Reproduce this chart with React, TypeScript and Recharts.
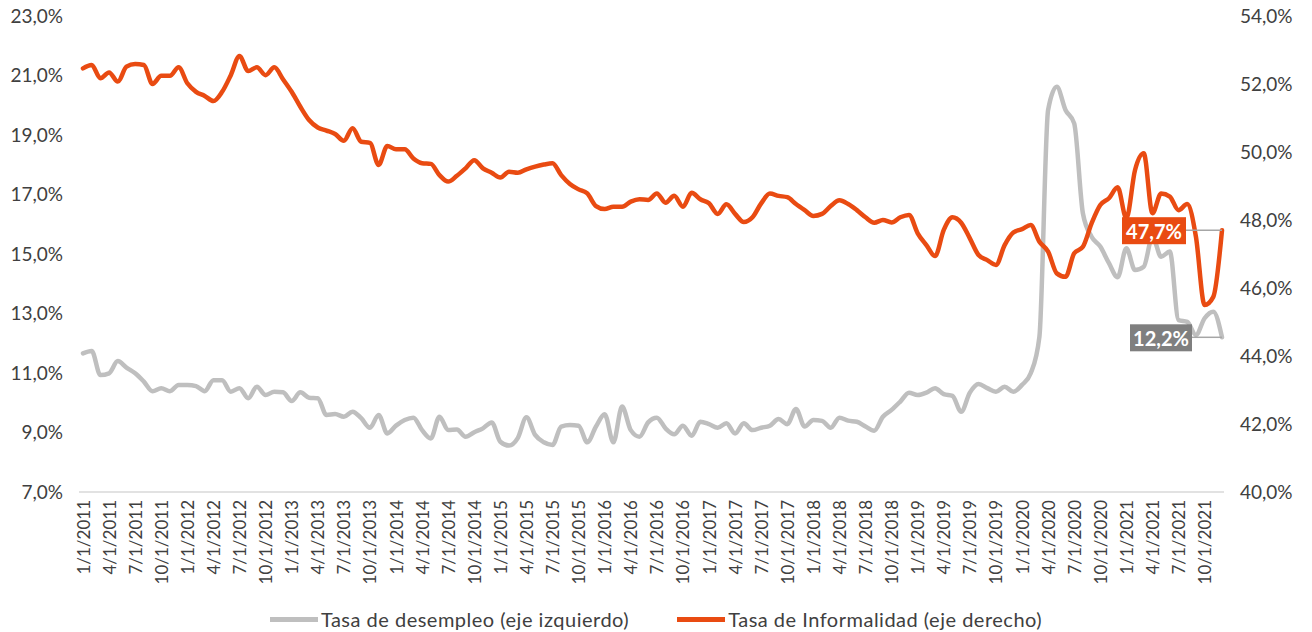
import React from 'react';
import { LineChart, Line, XAxis, YAxis, Legend, LabelList } from 'recharts';

// Monthly dates, Jan 2011 – Dec 2021
const fechas = [
  '1/1/2011', '2/1/2011', '3/1/2011', '4/1/2011', '5/1/2011', '6/1/2011', '7/1/2011', '8/1/2011', '9/1/2011', '10/1/2011', '11/1/2011', '12/1/2011',
  '1/1/2012', '2/1/2012', '3/1/2012', '4/1/2012', '5/1/2012', '6/1/2012', '7/1/2012', '8/1/2012', '9/1/2012', '10/1/2012', '11/1/2012', '12/1/2012',
  '1/1/2013', '2/1/2013', '3/1/2013', '4/1/2013', '5/1/2013', '6/1/2013', '7/1/2013', '8/1/2013', '9/1/2013', '10/1/2013', '11/1/2013', '12/1/2013',
  '1/1/2014', '2/1/2014', '3/1/2014', '4/1/2014', '5/1/2014', '6/1/2014', '7/1/2014', '8/1/2014', '9/1/2014', '10/1/2014', '11/1/2014', '12/1/2014',
  '1/1/2015', '2/1/2015', '3/1/2015', '4/1/2015', '5/1/2015', '6/1/2015', '7/1/2015', '8/1/2015', '9/1/2015', '10/1/2015', '11/1/2015', '12/1/2015',
  '1/1/2016', '2/1/2016', '3/1/2016', '4/1/2016', '5/1/2016', '6/1/2016', '7/1/2016', '8/1/2016', '9/1/2016', '10/1/2016', '11/1/2016', '12/1/2016',
  '1/1/2017', '2/1/2017', '3/1/2017', '4/1/2017', '5/1/2017', '6/1/2017', '7/1/2017', '8/1/2017', '9/1/2017', '10/1/2017', '11/1/2017', '12/1/2017',
  '1/1/2018', '2/1/2018', '3/1/2018', '4/1/2018', '5/1/2018', '6/1/2018', '7/1/2018', '8/1/2018', '9/1/2018', '10/1/2018', '11/1/2018', '12/1/2018',
  '1/1/2019', '2/1/2019', '3/1/2019', '4/1/2019', '5/1/2019', '6/1/2019', '7/1/2019', '8/1/2019', '9/1/2019', '10/1/2019', '11/1/2019', '12/1/2019',
  '1/1/2020', '2/1/2020', '3/1/2020', '4/1/2020', '5/1/2020', '6/1/2020', '7/1/2020', '8/1/2020', '9/1/2020', '10/1/2020', '11/1/2020', '12/1/2020',
  '1/1/2021', '2/1/2021', '3/1/2021', '4/1/2021', '5/1/2021', '6/1/2021', '7/1/2021', '8/1/2021', '9/1/2021', '10/1/2021', '11/1/2021', '12/1/2021',
];

// Tasa de desempleo (%), left axis
const desempleo = [
  11.66, 11.74, 10.93, 10.99, 11.40, 11.18, 10.99, 10.71, 10.39, 10.49, 10.39, 10.60,
  10.60, 10.56, 10.39, 10.76, 10.76, 10.37, 10.49, 10.15, 10.54, 10.26, 10.37, 10.35,
  10.06, 10.35, 10.17, 10.15, 9.59, 9.62, 9.53, 9.70, 9.48, 9.16, 9.59, 8.97,
  9.23, 9.42, 9.50, 9.08, 8.80, 9.53, 9.08, 9.10, 8.86, 9.01, 9.14, 9.34,
  8.69, 8.56, 8.81, 9.51, 8.92, 8.67, 8.58, 9.20, 9.25, 9.23, 8.67, 9.20,
  9.61, 8.67, 9.87, 9.08, 8.86, 9.34, 9.50, 9.14, 8.94, 9.23, 8.89, 9.36,
  9.28, 9.16, 9.31, 8.97, 9.31, 9.08, 9.16, 9.23, 9.45, 9.28, 9.79, 9.20,
  9.42, 9.39, 9.16, 9.50, 9.40, 9.36, 9.20, 9.06, 9.53, 9.76, 10.04, 10.34,
  10.26, 10.34, 10.49, 10.29, 10.23, 9.70, 10.34, 10.63, 10.49, 10.37, 10.54, 10.37,
  10.60, 10.99, 12.22, 19.84, 20.62, 19.84, 19.39, 16.37, 15.58, 15.25, 14.69, 14.22,
  15.19, 14.46, 14.57, 15.58, 14.91, 15.08, 12.78, 12.72, 12.28, 12.84, 13.06, 12.20,
];

// Tasa de informalidad (%), right axis
const informalidad = [
  52.46, 52.56, 52.17, 52.34, 52.07, 52.51, 52.59, 52.56, 52.00, 52.24, 52.24, 52.49,
  52.02, 51.77, 51.65, 51.50, 51.77, 52.26, 52.82, 52.38, 52.49, 52.26, 52.49, 52.14,
  51.77, 51.33, 50.94, 50.72, 50.63, 50.53, 50.33, 50.70, 50.30, 50.27, 49.62, 50.18,
  50.08, 50.08, 49.81, 49.67, 49.65, 49.32, 49.13, 49.30, 49.52, 49.76, 49.52, 49.39,
  49.25, 49.42, 49.39, 49.49, 49.57, 49.63, 49.67, 49.32, 49.06, 48.90, 48.78, 48.41,
  48.32, 48.39, 48.39, 48.54, 48.61, 48.59, 48.78, 48.51, 48.71, 48.39, 48.80, 48.61,
  48.49, 48.18, 48.46, 48.18, 47.94, 48.08, 48.49, 48.78, 48.71, 48.67, 48.47, 48.29,
  48.12, 48.18, 48.41, 48.58, 48.47, 48.29, 48.08, 47.92, 48.00, 47.93, 48.08, 48.15,
  47.61, 47.26, 46.94, 47.71, 48.08, 47.92, 47.46, 46.97, 46.82, 46.68, 47.26, 47.63,
  47.73, 47.85, 47.36, 47.07, 46.43, 46.33, 47.02, 47.21, 47.90, 48.44, 48.64, 48.96,
  48.05, 49.47, 49.96, 48.20, 48.78, 48.69, 48.29, 48.47, 47.51, 45.50, 45.74, 47.70,
];

const ticksIzq = [7, 9, 11, 13, 15, 17, 19, 21, 23];
const ticksDer = [40, 42, 44, 46, 48, 50, 52, 54];

const GRIS = '#bfbfbf';
const NARANJA = '#e94b12';
const FONT = 'Lato, "Noto Sans", sans-serif';
const TEXT = '#404040';

const data = fechas.map((fecha, i) => ({
  fecha,
  desempleo: desempleo[i],
  informalidad: informalidad[i],
}));

const pct = (v: number) => `${v.toFixed(1).replace('.', ',')}%`;

const DateTick = ({ x, y, payload }: any) => (
  <text
    x={x}
    y={y}
    transform={`rotate(-90 ${x} ${y})`}
    textAnchor="end"
    dominantBaseline="central"
    fontSize={17}
    fill={TEXT}
    fontFamily={FONT}
  >
    {payload.value}
  </text>
);

// boxed label on the last point, with a short leader line
const endLabel = (fill: string, boxLeft: number, boxWidth: number) => (props: any) => {
  const { x, y, index, value } = props;
  if (index !== data.length - 1) return null;
  const bx = x - boxLeft;
  return (
    <g>
      <line x1={bx + boxWidth} y1={y} x2={x} y2={y} stroke="#a6a6a6" strokeWidth={1.5} />
      <rect x={bx} y={y - 13} width={boxWidth} height={27} fill={fill} />
      <text
        x={bx + boxWidth / 2}
        y={y + 1}
        textAnchor="middle"
        dominantBaseline="central"
        fill="#fff"
        fontWeight={700}
        fontSize={20}
        fontFamily={FONT}
      >
        {pct(value)}
      </text>
    </g>
  );
};

const LegendContent = () => (
  <div
    style={{
      display: 'flex',
      justifyContent: 'center',
      alignItems: 'center',
      gap: 48,
      height: 26,
      fontFamily: FONT,
      fontSize: 20,
      letterSpacing: 0.5,
      color: TEXT,
    }}
  >
    {[
      { color: GRIS, label: 'Tasa de desempleo (eje izquierdo)' },
      { color: NARANJA, label: 'Tasa de Informalidad (eje derecho)' },
    ].map(item => (
      <div key={item.label} style={{ display: 'flex', alignItems: 'center' }}>
        <span style={{ display: 'inline-block', width: 48, height: 5, background: item.color, marginRight: 3 }} />
        <span>{item.label}</span>
      </div>
    ))}
  </div>
);

export default function App() {
  return (
    <div style={{ position: 'absolute', left: 0, top: 0, width: 1312, height: 632, background: '#fff' }}>
      <LineChart width={1312} height={632} data={data} margin={{ top: 16, right: 0, bottom: 0, left: 0 }}>
        <XAxis
          dataKey="fecha"
          interval={2}
          height={114}
          tick={<DateTick />}
          tickLine={false}
          tickSize={0}
          tickMargin={8}
          axisLine={{ stroke: '#d9d9d9', strokeWidth: 1.5 }}
          padding={{ left: 4, right: 2 }}
        />
        <YAxis
          yAxisId="izq"
          orientation="left"
          width={79}
          domain={[7, 23]}
          ticks={ticksIzq}
          tickFormatter={pct}
          axisLine={false}
          tickLine={false}
          tickSize={0}
          tickMargin={16}
          tick={{ fill: TEXT, fontSize: 19, fontFamily: FONT }}
        />
        <YAxis
          yAxisId="der"
          orientation="right"
          width={88}
          domain={[40, 54]}
          ticks={ticksDer}
          tickFormatter={pct}
          axisLine={false}
          tickLine={false}
          tickSize={0}
          tickMargin={16}
          tick={{ fill: TEXT, fontSize: 19, fontFamily: FONT }}
        />
        <Legend verticalAlign="bottom" height={26} content={<LegendContent />} />
        <Line
          yAxisId="izq"
          type="monotone"
          dataKey="desempleo"
          stroke={GRIS}
          strokeWidth={4.5}
          dot={false}
          strokeLinejoin="round"
          strokeLinecap="round"
          isAnimationActive={false}
        >
          <LabelList dataKey="desempleo" content={endLabel('#7f7f7f', 92, 62)} />
        </Line>
        <Line
          yAxisId="der"
          type="monotone"
          dataKey="informalidad"
          stroke={NARANJA}
          strokeWidth={4.5}
          dot={false}
          strokeLinejoin="round"
          strokeLinecap="round"
          isAnimationActive={false}
        >
          <LabelList dataKey="informalidad" content={endLabel(NARANJA, 100, 64)} />
        </Line>
      </LineChart>
    </div>
  );
}
